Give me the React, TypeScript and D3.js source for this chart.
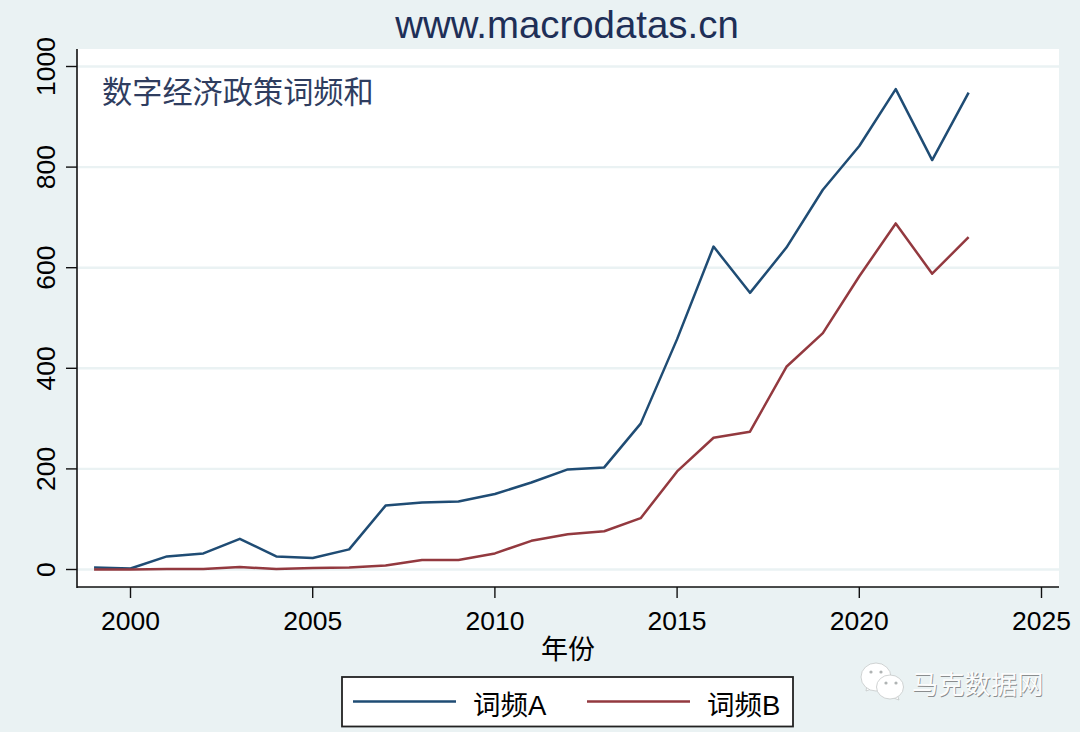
import React from "react";
import * as d3 from "d3";

const years = [1999,2000,2001,2002,2003,2004,2005,2006,2007,2008,2009,2010,2011,2012,2013,2014,2015,2016,2017,2018,2019,2020,2021,2022,2023];
const seriesA = [4,2,26,32,61,26,23,40,127,133,135,150,173,199,203,290,458,642,550,640,755,842,955,814,948];
const seriesB = [0,0,1,1,5,1,3,4,8,19,19,32,57,70,76,102,195,262,274,403,470,583,688,588,661];
const xTicks = [2000,2005,2010,2015,2020,2025];
const yTicks = [0,200,400,600,800,1000];
const titleText = "www.macrodatas.cn";
const noteText = "数字经济政策词频和";
const xLabel = "年份";
const legendA = "词频A";
const legendB = "词频B";
const watermark = "马克数据网";

const BG = "#eaf2f3";
const BLUE = "#1f4c74";
const RED = "#93393f";
const FONT = "Arial, 'Liberation Sans', 'Noto Sans CJK SC', sans-serif";

export default function App() {
  const x = d3.scaleLinear().domain([2000, 2025]).range([130.5, 1041.5]);
  const y = d3.scaleLinear().domain([0, 1000]).range([569.5, 66.5]);
  const left = 77, right = 1059, top = 49, bottom = 587;
  const line = d3.line<number>().x((_, i) => x(years[i])).y((d) => y(d));
  return (
    <svg width={1080} height={732} viewBox="0 0 1080 732" style={{ position: "absolute", left: 0, top: 0, display: "block" }} fontFamily={FONT}>
      <rect width={1080} height={732} fill={BG} />
      <rect x={left} y={top} width={right - left} height={bottom - top} fill="#fff" />
      {yTicks.map((t) => (
        <line key={t} x1={left} x2={right} y1={y(t)} y2={y(t)} stroke={BG} strokeWidth={2.4} />
      ))}
      <path d={line(seriesA) ?? ""} fill="none" stroke={BLUE} strokeWidth={2.5} strokeLinejoin="round" />
      <path d={line(seriesB) ?? ""} fill="none" stroke={RED} strokeWidth={2.5} strokeLinejoin="round" />
      <line x1={left} x2={left} y1={top} y2={bottom + 1} stroke="#111" strokeWidth={1.6} />
      <line x1={left} x2={right} y1={bottom} y2={bottom} stroke="#111" strokeWidth={1.6} />
      {yTicks.map((t) => (
        <g key={t}>
          <line x1={66} x2={left} y1={y(t)} y2={y(t)} stroke="#111" strokeWidth={1.4} />
          <text transform={`translate(55,${y(t)}) rotate(-90)`} textAnchor="middle" fontSize={26.5} fill="#000">{t}</text>
        </g>
      ))}
      {xTicks.map((t) => (
        <g key={t}>
          <line x1={x(t)} x2={x(t)} y1={bottom} y2={598} stroke="#111" strokeWidth={1.4} />
          <text x={x(t)} y={630} textAnchor="middle" fontSize={26.5} fill="#000">{t}</text>
        </g>
      ))}
      <text x={568} y={659} textAnchor="middle" fontSize={27} fill="#000">{xLabel}</text>
      <text x={567} y={38} textAnchor="middle" fontSize={38.4} fill="#1e2f57">{titleText}</text>
      <text x={102} y={103} fontSize={30.2} fill="#2f3d5f">{noteText}</text>
      <rect x={342} y={677} width={451} height={49.5} fill="#fff" stroke="#222" strokeWidth={1.8} />
      <line x1={353} x2={456} y1={701.5} y2={701.5} stroke={BLUE} strokeWidth={2.6} />
      <text x={473} y={715} fontSize={27.5} fill="#000">{legendA}</text>
      <line x1={587} x2={690} y1={701.5} y2={701.5} stroke={RED} strokeWidth={2.6} />
      <text x={707} y={715} fontSize={27.5} fill="#000">{legendB}</text>
      <g>
        <path d="M866 691 L867 685 L874 688 Z" fill="#fff" stroke="#c4c8c8" strokeWidth={0.8} />
        <ellipse cx={876} cy={677} rx={15} ry={14} fill="#fff" stroke="#c4c8c8" strokeWidth={0.8} />
        <path d="M899 700 L897 694 L891 697 Z" fill="#fff" stroke="#c4c8c8" strokeWidth={0.8} />
        <ellipse cx={890} cy={687} rx={13.5} ry={12} fill="#fff" stroke="#c4c8c8" strokeWidth={0.8} />
        <circle cx={871} cy={672} r={1.6} fill="#b0b4b4" /><circle cx={881} cy={672} r={1.6} fill="#b0b4b4" />
        <circle cx={886} cy={683} r={1.6} fill="#b0b4b4" /><circle cx={896} cy={683} r={1.6} fill="#b0b4b4" />
      </g>
      <text x={912} y={694} fontSize={26.3} fill="#8a8d8e" transform="translate(0.8,0.8)">{watermark}</text>
      <text x={912} y={694} fontSize={26.3} fill="#fbfcfc">{watermark}</text>
    </svg>
  );
}
